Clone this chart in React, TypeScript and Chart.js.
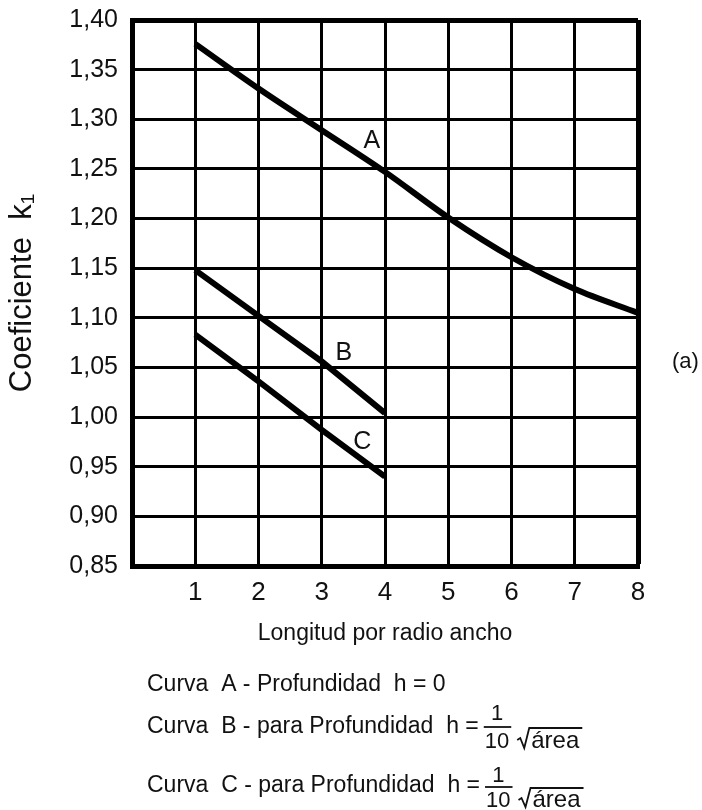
import React, { useEffect, useRef } from 'react';
import { Chart, registerables } from 'chart.js';

Chart.register(...registerables);

const FONT = '"Liberation Sans", Arial, Helvetica, sans-serif';

// ---- data ----
const xValuesA = [1, 2, 3, 4, 5, 6, 7, 8];
const curveA = [1.376, 1.331, 1.289, 1.247, 1.201, 1.161, 1.129, 1.105];
const xValuesBC = [1, 2, 3, 4];
const curveB = [1.148, 1.102, 1.056, 1.004];
const curveC = [1.083, 1.036, 0.987, 0.94];

const curveNames = ['A', 'B', 'C'];
const curveLabelX = [3.79, 3.35, 3.64];
const curveLabelY = [1.278, 1.064, 0.975];

const xTickLabels = ['', '1', '2', '3', '4', '5', '6', '7', '8'];
const yTickLabels = ['0,85', '0,90', '0,95', '1,00', '1,05', '1,10', '1,15', '1,20', '1,25', '1,30', '1,35', '1,40'];

const xTitle = 'Longitud por radio ancho';
const yTitle = 'Coeficiente  k\u2081';
const panelTag = '(a)';

const legendPrefixes = [
  'Curva  A - Profundidad  h = 0',
  'Curva  B - para Profundidad  h =',
  'Curva  C - para Profundidad  h =',
];
const legendHasFraction = [false, true, true];
const fracNumerator = '1';
const fracDenominator = '10';
const fracRadicand = 'área';

function drawFraction(ctx: CanvasRenderingContext2D, x: number, barY: number, numBase: number, denBase: number) {
  ctx.font = '22px ' + FONT;
  const w10 = ctx.measureText(fracDenominator).width;
  ctx.textAlign = 'left';
  ctx.fillText(fracDenominator, x + 1, denBase);
  ctx.textAlign = 'center';
  ctx.fillText(fracNumerator, x + 1 + w10 / 2, numBase);
  ctx.lineWidth = 1.8;
  ctx.beginPath();
  ctx.moveTo(x, barY);
  ctx.lineTo(x + w10 + 3, barY);
  ctx.stroke();
  const rx = x + w10 + 9;
  ctx.font = '24px ' + FONT;
  const wa = ctx.measureText(fracRadicand).width;
  ctx.beginPath();
  ctx.moveTo(rx, barY + 13);
  ctx.lineTo(rx + 3, barY + 11);
  ctx.lineTo(rx + 7, denBase);
  ctx.lineTo(rx + 12, barY + 1);
  ctx.lineTo(rx + 15 + wa + 2, barY + 1);
  ctx.stroke();
  ctx.textAlign = 'left';
  ctx.fillText(fracRadicand, rx + 14, denBase);
}

const annotations = {
  id: 'annotations',
  afterDraw(chart: any) {
    const ctx: CanvasRenderingContext2D = chart.ctx;
    const xs = chart.scales.x;
    const ys = chart.scales.y;
    ctx.save();
    ctx.fillStyle = '#111';
    ctx.strokeStyle = '#111';
    // curve labels
    ctx.font = '25px ' + FONT;
    ctx.textAlign = 'center';
    ctx.textBaseline = 'middle';
    curveNames.forEach((n, i) => {
      ctx.fillText(n, xs.getPixelForValue(curveLabelX[i]), ys.getPixelForValue(curveLabelY[i]));
    });
    // panel tag
    ctx.font = '22px ' + FONT;
    ctx.textAlign = 'left';
    ctx.fillText(panelTag, chart.chartArea.right + 34, 362);
    // legend text
    ctx.textBaseline = 'alphabetic';
    const baselines = [691, 733, 792];
    const bars = [0, 727, 787];
    const nums = [0, 720, 782];
    const dens = [0, 748, 807];
    legendPrefixes.forEach((t, i) => {
      ctx.font = '23px ' + FONT;
      ctx.textAlign = 'left';
      ctx.fillText(t, 147, baselines[i]);
      if (legendHasFraction[i]) {
        const w = ctx.measureText(t).width;
        drawFraction(ctx, 147 + w + 5, bars[i], nums[i], dens[i]);
      }
    });
    ctx.restore();
  },
};

export default function App() {
  const ref = useRef<HTMLCanvasElement | null>(null);
  useEffect(() => {
    if (!ref.current) return;
    const line = (xs: number[], ys: number[]) => xs.map((x, i) => ({ x, y: ys[i] }));
    const chart = new Chart(ref.current, {
      type: 'line',
      data: {
        datasets: [
          { label: 'A', data: line(xValuesA, curveA), borderColor: '#000', borderWidth: 6, pointRadius: 0, cubicInterpolationMode: 'monotone', borderCapStyle: 'butt' },
          { label: 'B', data: line(xValuesBC, curveB), borderColor: '#000', borderWidth: 6, pointRadius: 0, tension: 0, borderCapStyle: 'butt' },
          { label: 'C', data: line(xValuesBC, curveC), borderColor: '#000', borderWidth: 6, pointRadius: 0, tension: 0, borderCapStyle: 'butt' },
        ],
      } as any,
      options: {
        animation: false,
        responsive: false,
        events: [],
        layout: { padding: { left: 0, top: 20, right: 64, bottom: 160 } },
        plugins: { legend: { display: false }, tooltip: { enabled: false } },
        scales: {
          x: {
            type: 'linear',
            min: 0,
            max: 8,
            ticks: {
              stepSize: 1,
              padding: 11,
              color: '#111',
              font: { family: FONT, size: 26 },
              maxRotation: 0,
              callback: (_v: any, i: number) => xTickLabels[i],
            },
            grid: {
              color: '#000',
              drawTicks: false,
              lineWidth: (c: any) => (c.tick && c.tick.value === 8 ? 5 : 3),
            },
            border: { display: true, color: '#000', width: 5 },
            title: { display: true, text: xTitle, color: '#111', font: { family: FONT, size: 23 }, padding: { top: 0, bottom: 3 } },
            afterFit: (s: any) => { s.height = 84; },
          },
          y: {
            type: 'linear',
            min: 0.85,
            max: 1.4,
            ticks: {
              stepSize: 0.05,
              padding: 14,
              color: '#111',
              font: { family: FONT, size: 25 },
              callback: (_v: any, i: number) => yTickLabels[i],
            },
            grid: {
              color: '#000',
              drawTicks: false,
              lineWidth: (c: any) => (c.tick && c.tick.value > 1.399 ? 5 : 3),
            },
            border: { display: true, color: '#000', width: 5 },
            title: { display: true, text: yTitle, color: '#111', font: { family: FONT, size: 31 }, padding: { top: 4, bottom: 0 } },
            afterFit: (s: any) => {
              s.width = 132;
              s.paddingTop = 10;
              s.paddingBottom = 10;
            },
          },
        },
      } as any,
      plugins: [annotations],
    });
    return () => chart.destroy();
  }, []);
  return (
    <div style={{ position: 'absolute', left: 0, top: 0, width: 702, height: 810, background: '#fff' }}>
      <canvas ref={ref} width={702} height={810} style={{ display: 'block', width: 702, height: 810 }} />
    </div>
  );
}
